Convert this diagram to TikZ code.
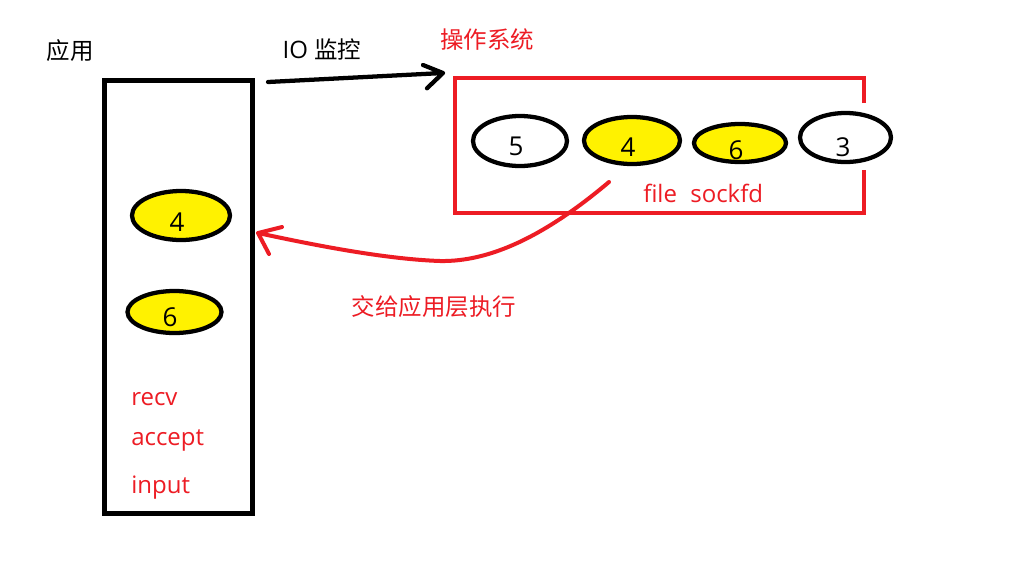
\documentclass[tikz,border=0pt]{standalone}
\usepackage{fontspec}
\setmainfont{Open Sans}
\newfontfamily\cjk{Noto Sans CJK SC}
\usetikzlibrary{shapes.geometric}
\definecolor{pred}{RGB}{237,28,36}
\definecolor{pyel}{RGB}{255,242,0}
\begin{document}
\begin{tikzpicture}[x=0.75pt,y=-0.75pt,
  oval/.style={ellipse,draw=black,line width=3.2pt,inner sep=0pt,fill=white},
  fd/.style={oval,fill=pyel},
  digit/.style={inner sep=0pt,text=black,font=\fontsize{19.5pt}{22pt}\selectfont},
  lat/.style={inner sep=0pt,font=\fontsize{18pt}{21pt}\selectfont},
  han/.style={inner sep=0pt,font=\cjk\fontsize{17.6pt}{21pt}\selectfont},
  redline/.style={draw=pred,line width=3pt,line cap=round,line join=round},
  blackline/.style={draw=black,line width=3.2pt,line cap=round,line join=round},
  appbox/.style={draw=black,line width=3.75pt,inner sep=0pt,minimum width=111pt,minimum height=324.4pt}
]
\useasboundingbox[fill=white] (0,0) rectangle (1018,579);

% application box
\node[appbox] (app) at (178,296.75) {};
\node[han] (appl) at (70,51) {应用};

% OS box (right side open where ellipse 3 sits)
\coordinate (osA) at (864,103);
\coordinate (osB) at (864,78);
\coordinate (osC) at (455,78);
\coordinate (osD) at (455,213);
\coordinate (osE) at (864,213);
\coordinate (osF) at (864,170);
\draw[draw=pred,line width=3pt] (osA) -- (osB) -- (osC) -- (osD) -- (osE) -- (osF);
\node[han,text=pred] (osl) at (487,40) {操作系统};

% OS descriptors
\node[oval,minimum width=70.5pt,minimum height=37.5pt] (e5) at (520,141) {};
\node[fd,minimum width=72pt,minimum height=35.25pt] (e4) at (632,140.5) {};
\node[fd,minimum width=69pt,minimum height=28.5pt] (e6) at (740,143) {};
\node[oval,minimum width=68.25pt,minimum height=36.75pt] (e3) at (845.5,137.5) {};
\node[digit] (d5) at (516,146.5) {5};
\node[digit] (d4) at (628,147) {4};
\node[digit] (d6) at (736,150) {6};
\node[digit] (d3) at (843,147) {3};
\node[lat,text=pred,anchor=base west] (fs) at (643,202) {file\hspace{10pt}sockfd};

% app descriptors
\node[fd,minimum width=73.5pt,minimum height=36.75pt] (a4) at (181,215.5) {};
\node[fd,minimum width=70.5pt,minimum height=31.5pt] (a6) at (174.5,312) {};
\node[digit] (ad4) at (177,222) {4};
\node[digit] (ad6) at (170,317) {6};
\node[lat,text=pred,anchor=base west] (recv) at (131,405) {recv};
\node[lat,text=pred,anchor=base west] (acc) at (131,445) {accept};
\node[lat,text=pred,anchor=base west] (inp) at (131,493) {input};

% IO monitoring arrow
\coordinate (ioA) at (268,82);
\coordinate (ioB) at (443,73);
\draw[blackline] (ioA) -- (ioB) -- ++(-20,-8) (ioB) -- ++(-16,15.3);
\node[lat] (iol) at (322,49) {IO {\cjk\fontsize{17.6pt}{21pt}\selectfont 监控}};

% hand back arrow
\coordinate (rbA) at (609,182);
\coordinate (rbM) at (440,261);
\coordinate (rbB) at (258,233);
\draw[redline] (rbA) .. controls (545,236) and (490,262) .. (rbM)
  .. controls (380,259) and (300,242) .. (rbB) -- ++(24,-6) (rbB) -- ++(11,21);
\node[han,text=pred] (hand) at (434,307) {交给应用层执行};
\end{tikzpicture}
\end{document}
